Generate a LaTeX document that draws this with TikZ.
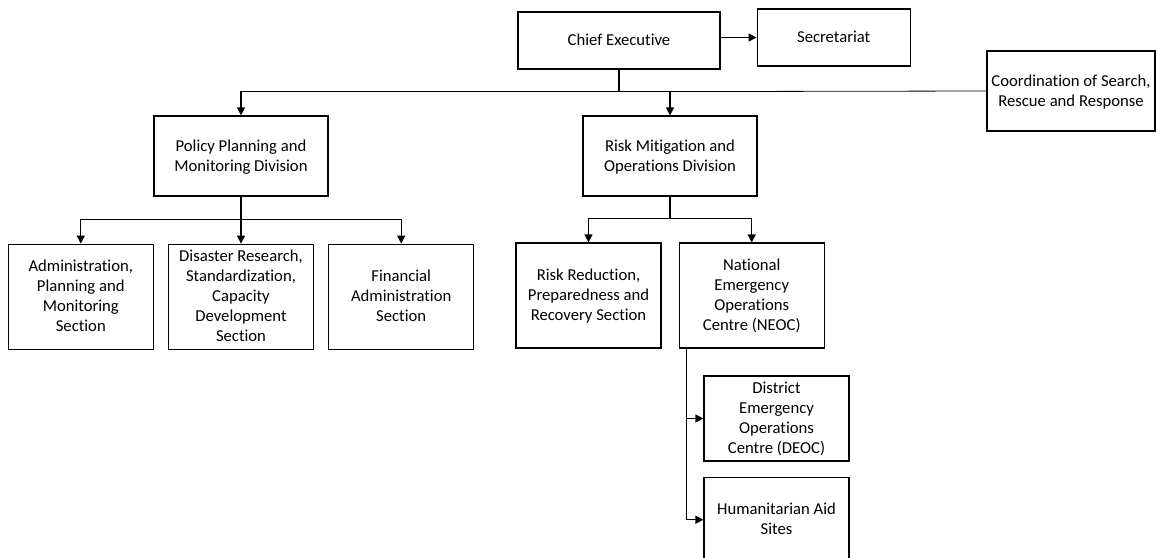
\documentclass[tikz,border=0pt]{standalone}
\usepackage{fontspec}
\setmainfont{Carlito}[Ligatures={NoCommon}]
\usetikzlibrary{positioning,arrows.meta}
\tikzset{
	unitbox/.style={rectangle, draw=black, line width=0.9pt, fill=white,
		font=\fontsize{12.5}{15}\selectfont, align=center, inner sep=0pt,
		text depth=1pt, minimum width=130.5pt, minimum height=60pt},
	sectbox/.style={unitbox, minimum width=108.75pt, minimum height=78.75pt},
	subbox/.style={unitbox, minimum width=108.75pt, minimum height=63.75pt},
	link/.style={line width=0.9pt, -{Triangle[length=6pt,width=6pt]}},
	thinlink/.style={line width=0.6pt}
}

\begin{document}
\begin{tikzpicture}[x=0.75pt, y=-0.75pt]
			\useasboundingbox (0,0) rectangle (1156,557);
			\node[unitbox, minimum width=151.5pt, minimum height=42.75pt] (chief) at (619,40.5) {Chief Executive};
			\node[unitbox, minimum width=114.75pt, minimum height=42.75pt, right=27pt of chief, yshift=2.25pt] (secretariat) {Secretariat};
			\node[unitbox, minimum width=126pt] (coord) at (1071,91) {Coordination of Search,\\Rescue and Response};
			
			\node[unitbox] (policy) at (241,156) {Policy Planning and\\Monitoring Division};
			\node[unitbox] (risk) at (670,156) {Risk Mitigation and\\Operations Division};
			
			\node[sectbox, below=35.25pt of policy] (disaster) {Disaster Research,\\Standardization,\\Capacity\\Development\\Section};
			\node[sectbox, left=10.5pt of disaster] (admin) {Administration,\\Planning and\\Monitoring\\Section};
			\node[sectbox, right=10.5pt of disaster] (financial) {Financial\\Administration\\Section};
			
			\node[sectbox] (riskred) at (588.5,295.5) {Risk Reduction,\\Preparedness and\\Recovery Section};
			\node[sectbox, right=12.75pt of riskred] (neoc) {National\\Emergency\\Operations\\Centre (NEOC)};
			
			\node[subbox] (deoc) at (776.5,418.5) {District\\Emergency\\Operations\\Centre (DEOC)};
			\node[subbox, below=11.25pt of deoc] (aid) {Humanitarian Aid\\Sites};
			
			\coordinate (jc) at ([yshift=-16.5pt]chief.south);
			\coordinate (jp) at ([yshift=-17.25pt]policy.south);
			\coordinate (jr) at ([yshift=-16.5pt]risk.south);
			\coordinate (jn) at ([xshift=6pt]neoc.south west);
			
			\draw[link] (chief.east |- secretariat.west) -- (secretariat.west);
			\draw[link] (chief.south) -- (jc) -| (policy.north);
			\draw[link] (jc) -| (risk.north);
			\draw[thinlink] (jc -| risk.north) -- (coord.west);
			
			\draw[link] (policy.south) -- (jp) -| (admin.north);
			\draw[link] (jp) -- (disaster.north);
			\draw[link] (jp) -| (financial.north);
			
			\draw[link] (risk.south) -- (jr) -| (riskred.north);
			\draw[link] (jr) -| (neoc.north);
			
			\draw[link] (jn) |- (deoc.west);
			\draw[link] (jn) |- (aid.west);
		\end{tikzpicture}
\end{document}
